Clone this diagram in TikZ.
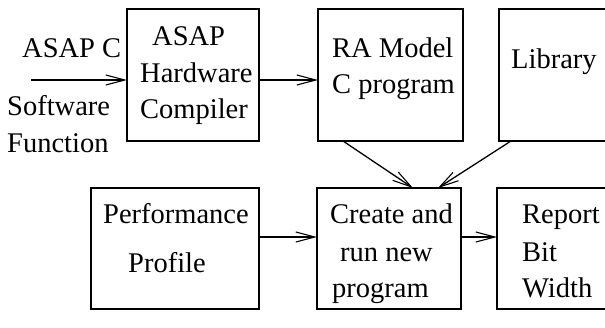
\documentclass[tikz,border=0pt]{standalone}
\usepackage{fontspec}
\setmainfont{Liberation Serif}
\usetikzlibrary{arrows.meta}
\tikzset{
  blk/.style={draw, line width=1.3pt, rectangle},
  lbl/.style={anchor=base west, inner sep=0pt, font=\fontsize{28.5}{34}\selectfont},
  conn/.style={line width=1.3pt, -{Straight Barb[length=19pt,width=10pt,line width=1.1pt]}},
}
\begin{document}
\begin{tikzpicture}[x=1pt,y=-1pt]
\useasboundingbox (0,0) rectangle (605,327);
\clip (0,0) rectangle (605,327);
% boxes
\draw[blk] (127,9) rectangle (259,141);
\coordinate (hwW) at (127,80); \coordinate (hwE) at (259,80);
\draw[blk] (318,9) rectangle (463,141);
\coordinate (raW) at (318,80); \coordinate (raS) at (343,141);
\draw[blk] (499,9) rectangle (625,141);
\coordinate (libS) at (511,141);
\draw[blk] (91,188) rectangle (259,309);
\coordinate (pfE) at (259,237);
\draw[blk] (317,188) rectangle (461,309);
\coordinate (crW) at (317,237); \coordinate (crE) at (461,237);
\coordinate (crN1) at (413,188); \coordinate (crN2) at (438,188);
\draw[blk] (497,188) rectangle (625,309);
\coordinate (rpW) at (497,237);
\coordinate (inS) at (31,80);
% texts
\node[lbl] (t1) at (22,57) {ASAP C};
\node[lbl] (t2) at (7,115) {Software};
\node[lbl] (t3) at (7,152) {Function};
\node[lbl] (t4) at (152,45) {ASAP};
\node[lbl] (t5) at (140,82) {Hardware};
\node[lbl] (t6) at (140,118) {Compiler};
\node[lbl] (t7) at (332,57) {RA Model};
\node[lbl] (t8) at (332,93) {C program};
\node[lbl] (t9) at (511,68) {Library};
\node[lbl] (t10) at (103,223) {Performance};
\node[lbl] (t11) at (128,272) {Profile};
\node[lbl] (t12) at (330,223) {Create and};
\node[lbl] (t13) at (340,261) {run new};
\node[lbl] (t14) at (332,297) {program};
\node[lbl] (t15) at (522,223) {Report};
\node[lbl] (t16) at (522,261) {Bit};
\node[lbl] (t17) at (522,297) {Width};
% connectors
\draw[conn] (inS) -- (hwW);
\draw[conn] (hwE) -- (raW);
\draw[conn] (raS) -- (crN1);
\draw[conn] (libS) -- (crN2);
\draw[conn] (pfE) -- (crW);
\draw[conn] (crE) -- (rpW);
\end{tikzpicture}
\end{document}
